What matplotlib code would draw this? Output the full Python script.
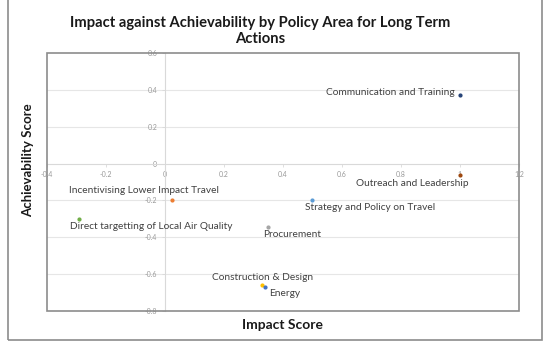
import matplotlib.pyplot as plt
from matplotlib.patches import Rectangle

plt.rcParams['font.family'] = ['Lato', 'DejaVu Sans']

areas = ["Communication and Training", "Outreach and Leadership", "Strategy and Policy on Travel",
         "Procurement", "Incentivising Lower Impact Travel", "Direct targetting of Local Air Quality",
         "Construction & Design", "Energy"]
impact = [1.0, 1.0, 0.5, 0.35, 0.025, -0.29, 0.33, 0.34]
achievability = [0.37, -0.06, -0.2, -0.345, -0.2, -0.3, -0.66, -0.67]
colors = ["#264478", "#9E480E", "#5B9BD5", "#A5A5A5", "#ED7D31", "#70AD47", "#FFC000", "#4472C4"]

# label anchor positions (data coords) and alignment
label_x = [0.983, 0.837, 0.475, 0.332, -0.325, -0.322, 0.159, 0.353]
label_y = [0.383, -0.109, -0.24, -0.383, -0.148, -0.344, -0.617, -0.705]
label_ha = ["right", "center", "left", "left", "left", "left", "left", "left"]

fig = plt.figure(figsize=(5.5, 3.51), dpi=100)
ax = fig.add_axes([0.0855, 0.114, 0.858, 0.735])

# outer chart border
fig.patches.append(Rectangle((8 / 550, 1 - 340 / 351), 534 / 550, 340 / 351 + 0.05,
                             transform=fig.transFigure, fill=False, edgecolor="#8c8c8c", lw=1.2))

ax.set_xlim(-0.4, 1.2)
ax.set_ylim(-0.8, 0.6)
ax.set_xticks([-0.4, -0.2, 0, 0.2, 0.4, 0.6, 0.8, 1, 1.2])
ax.set_xticklabels(["-0.4", "-0.2", "0", "0.2", "0.4", "0.6", "0.8", "1", "1.2"])
ax.set_yticks([-0.8, -0.6, -0.4, -0.2, 0, 0.2, 0.4, 0.6])
ax.set_yticklabels(["-0.8", "-0.6", "-0.4", "-0.2", "0", "0.2", "0.4", "0.6"])

for yv in [-0.6, -0.4, -0.2, 0.2, 0.4]:
    ax.axhline(yv, color="#e6e6e6", lw=0.8, zorder=0)

ax.spines["left"].set_position(("data", 0))
ax.spines["bottom"].set_position(("data", 0))
ax.spines["left"].set_color("#d9d9d9")
ax.spines["bottom"].set_color("#d9d9d9")
ax.spines["top"].set_visible(False)
ax.spines["right"].set_visible(False)
ax.tick_params(colors="#d9d9d9", labelcolor="#999999", labelsize=5, length=2, width=0.6)

# plot area box
ax.add_patch(Rectangle((0, 0), 1, 1, transform=ax.transAxes, fill=False,
                       edgecolor="#8c8c8c", lw=1.2, clip_on=False, zorder=5))

for xv, yv, c in zip(impact, achievability, colors):
    ax.scatter(xv, yv, s=4, color=c, zorder=4)

for name, tx, ty, ha in zip(areas, label_x, label_y, label_ha):
    ax.text(tx, ty, name, ha=ha, va="center", fontsize=7.3, color="#404040")

fig.text(0.473, 0.912, "Impact against Achievability by Policy Area for Long Term\nActions",
         ha="center", va="center", fontsize=10.6, fontweight="bold", color="#1a1a1a", linespacing=1.25)
fig.text(0.513, 0.074, "Impact Score", ha="center", va="center", fontsize=10, fontweight="bold",
         color="#1a1a1a")
fig.text(0.051, 0.545, "Achievability Score", ha="center", va="center", rotation=90, fontsize=9.5,
         fontweight="bold", color="#1a1a1a")

fig.savefig("out.png", dpi=100)
